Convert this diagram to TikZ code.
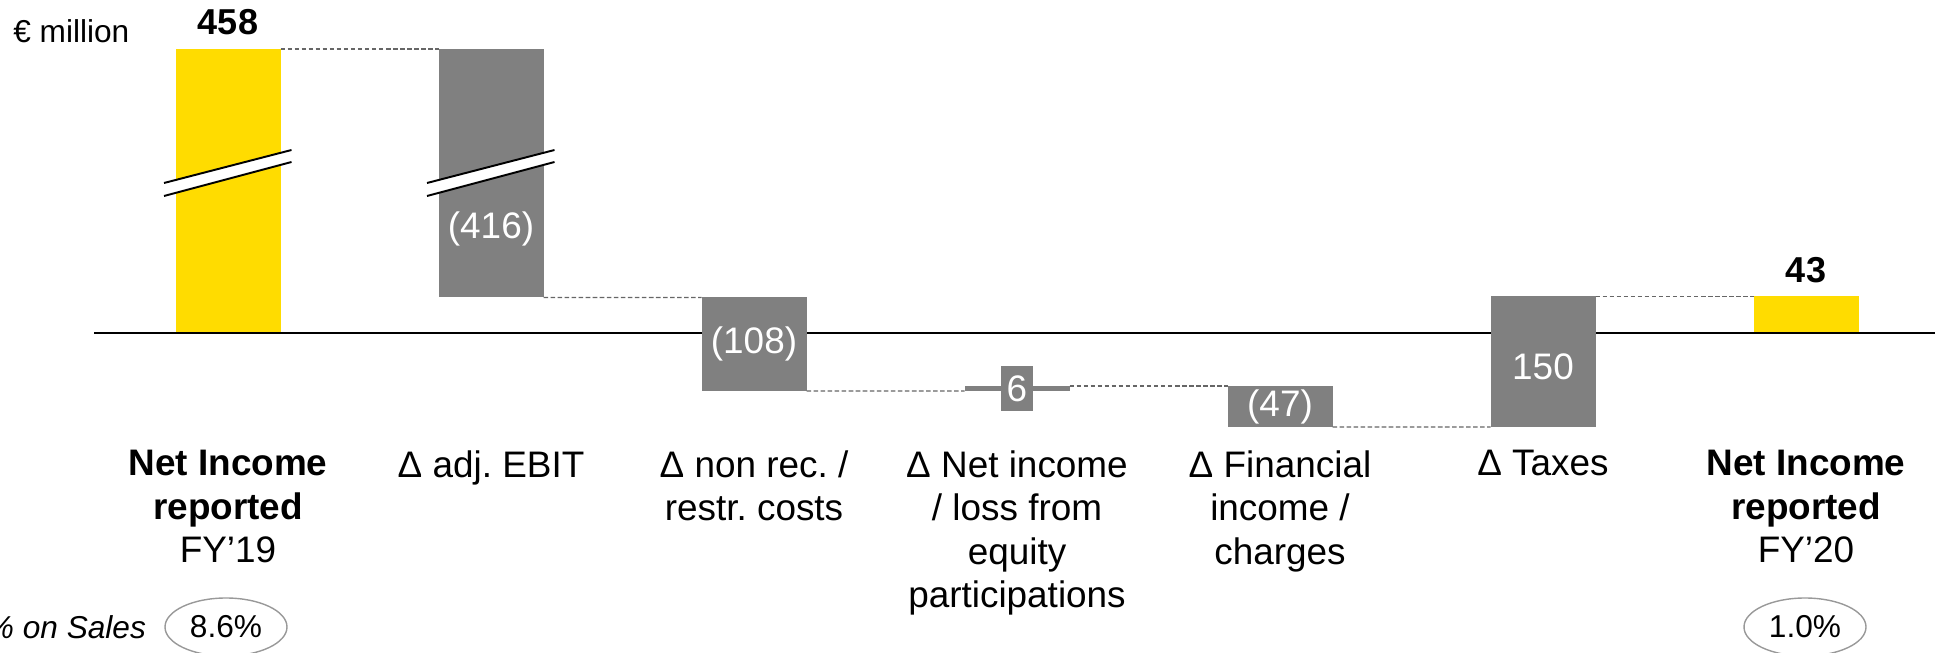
\documentclass[tikz,border=0pt]{standalone}
\usepackage{fontspec}
\setmainfont{Liberation Sans}
\usetikzlibrary{positioning,shapes.geometric}
\definecolor{niyellow}{HTML}{FFDC00}
\definecolor{nigray}{HTML}{808080}
\frenchspacing

\begin{document}
\begin{tikzpicture}[
	bar/.style={fill=nigray, minimum width=2.1cm, inner sep=0pt, outer sep=0pt, anchor=north},
	barval/.style={text=white, inner sep=0pt, font=\fontsize{21}{24}\selectfont},
	topval/.style={inner sep=0pt, font=\fontsize{20.5}{24}\selectfont\bfseries},
	link/.style={black!60, line width=0.8pt, dash pattern=on 2.6pt off 1.4pt},
	brk/.style={line width=1.1pt},
	cat/.style={align=center, anchor=north, inner sep=0pt, font=\fontsize{21}{24.75}\selectfont},
	pct/.style={ellipse, draw=black!40, line width=0.8pt, minimum width=2.44cm, minimum height=1.16cm, inner sep=0pt, font=\fontsize{18}{21}\selectfont}]
	\useasboundingbox (0,0) rectangle (38.7,13.04);
	\draw[line width=1.4pt] (1.88,6.38) -- (38.7,6.38);
	% bars
	\node[bar, fill=niyellow, minimum height=5.66cm] (b1) at (4.56,12.06) {};
	\node[bar, minimum height=4.97cm] (b2) at (9.82,12.06) {};
	\node[bar, minimum height=1.87cm] (b3) at (15.08,7.09) {};
	\node[bar, minimum height=0.10cm] (b4) at (20.34,5.32) {};
	\node[bar, minimum height=0.82cm] (b5) at (25.60,5.32) {};
	\node[bar, minimum height=2.61cm] (b6) at (30.86,7.11) {};
	\node[bar, fill=niyellow, minimum height=0.71cm] (b7) at (36.12,7.11) {};
	% axis breaks
	\foreach \x in {4.56,9.82}{
		\fill[white] (\x-1.28,9.38) -- (\x+1.27,10.04) -- (\x+1.27,9.80) -- (\x-1.28,9.12) -- cycle;
		\draw[brk] (\x-1.28,9.38) -- (\x+1.27,10.04);
		\draw[brk] (\x-1.28,9.12) -- (\x+1.27,9.80);
	}
	% values
	\node[topval, above=0.28cm of b1] (v1) {458};
	\node[barval] (v2) at (9.82,8.46) {(416)};
	\node[barval] (v3) at (b3.center) {(108)};
	\node[barval, fill=nigray, minimum width=0.64cm, minimum height=0.9cm] (v4) at (b4.center) {6};
	\node[barval] (v5) at (b5.center) {(47)};
	\node[barval] (v6) at ([yshift=-0.1cm]b6.center) {150};
	\node[topval, above=0.27cm of b7] (v7) {43};
	% steps
	\draw[link] (b1.north east) -- (b2.north west);
	\draw[link] (b2.south east) -- (b3.north west);
	\draw[link] (b3.south east) -- (b4.south west);
	\draw[link] (b4.north east) -- (b5.north west);
	\draw[link] (b5.south east) -- (b6.south west);
	\draw[link] (b6.north east) -- (b7.north west);
	\node[anchor=base west, inner sep=0pt, font=\fontsize{18}{21}\selectfont] (unit) at (0.26,12.18) {€ million};
	% categories
	\node[cat] (c1) at (4.56,4.04) {\textbf{Net Income}\\\textbf{reported}\\FY’19};
	\node[cat] (c2) at (9.82,4.04) {Δ adj. EBIT};
	\node[cat] (c3) at (15.08,4.04) {Δ non rec. /\\restr. costs};
	\node[cat] (c4) at (20.34,4.04) {Δ Net income\\/ loss from\\equity\\participations};
	\node[cat] (c5) at (25.60,4.04) {Δ Financial\\income /\\charges};
	\node[cat] (c6) at (30.86,4.04) {Δ Taxes};
	\node[cat] (c7) at (36.12,4.04) {\textbf{Net Income}\\\textbf{reported}\\FY’20};
	% margins
	\node[pct] (p1) at (4.52,0.5) {8.6\%};
	\node[pct] (p7) at (36.10,0.5) {1.0\%};
	\node[left=0.36cm of p1, inner sep=0pt, font=\fontsize{18}{21}\selectfont\itshape] (plbl) {\% on Sales};
\end{tikzpicture}
\end{document}
